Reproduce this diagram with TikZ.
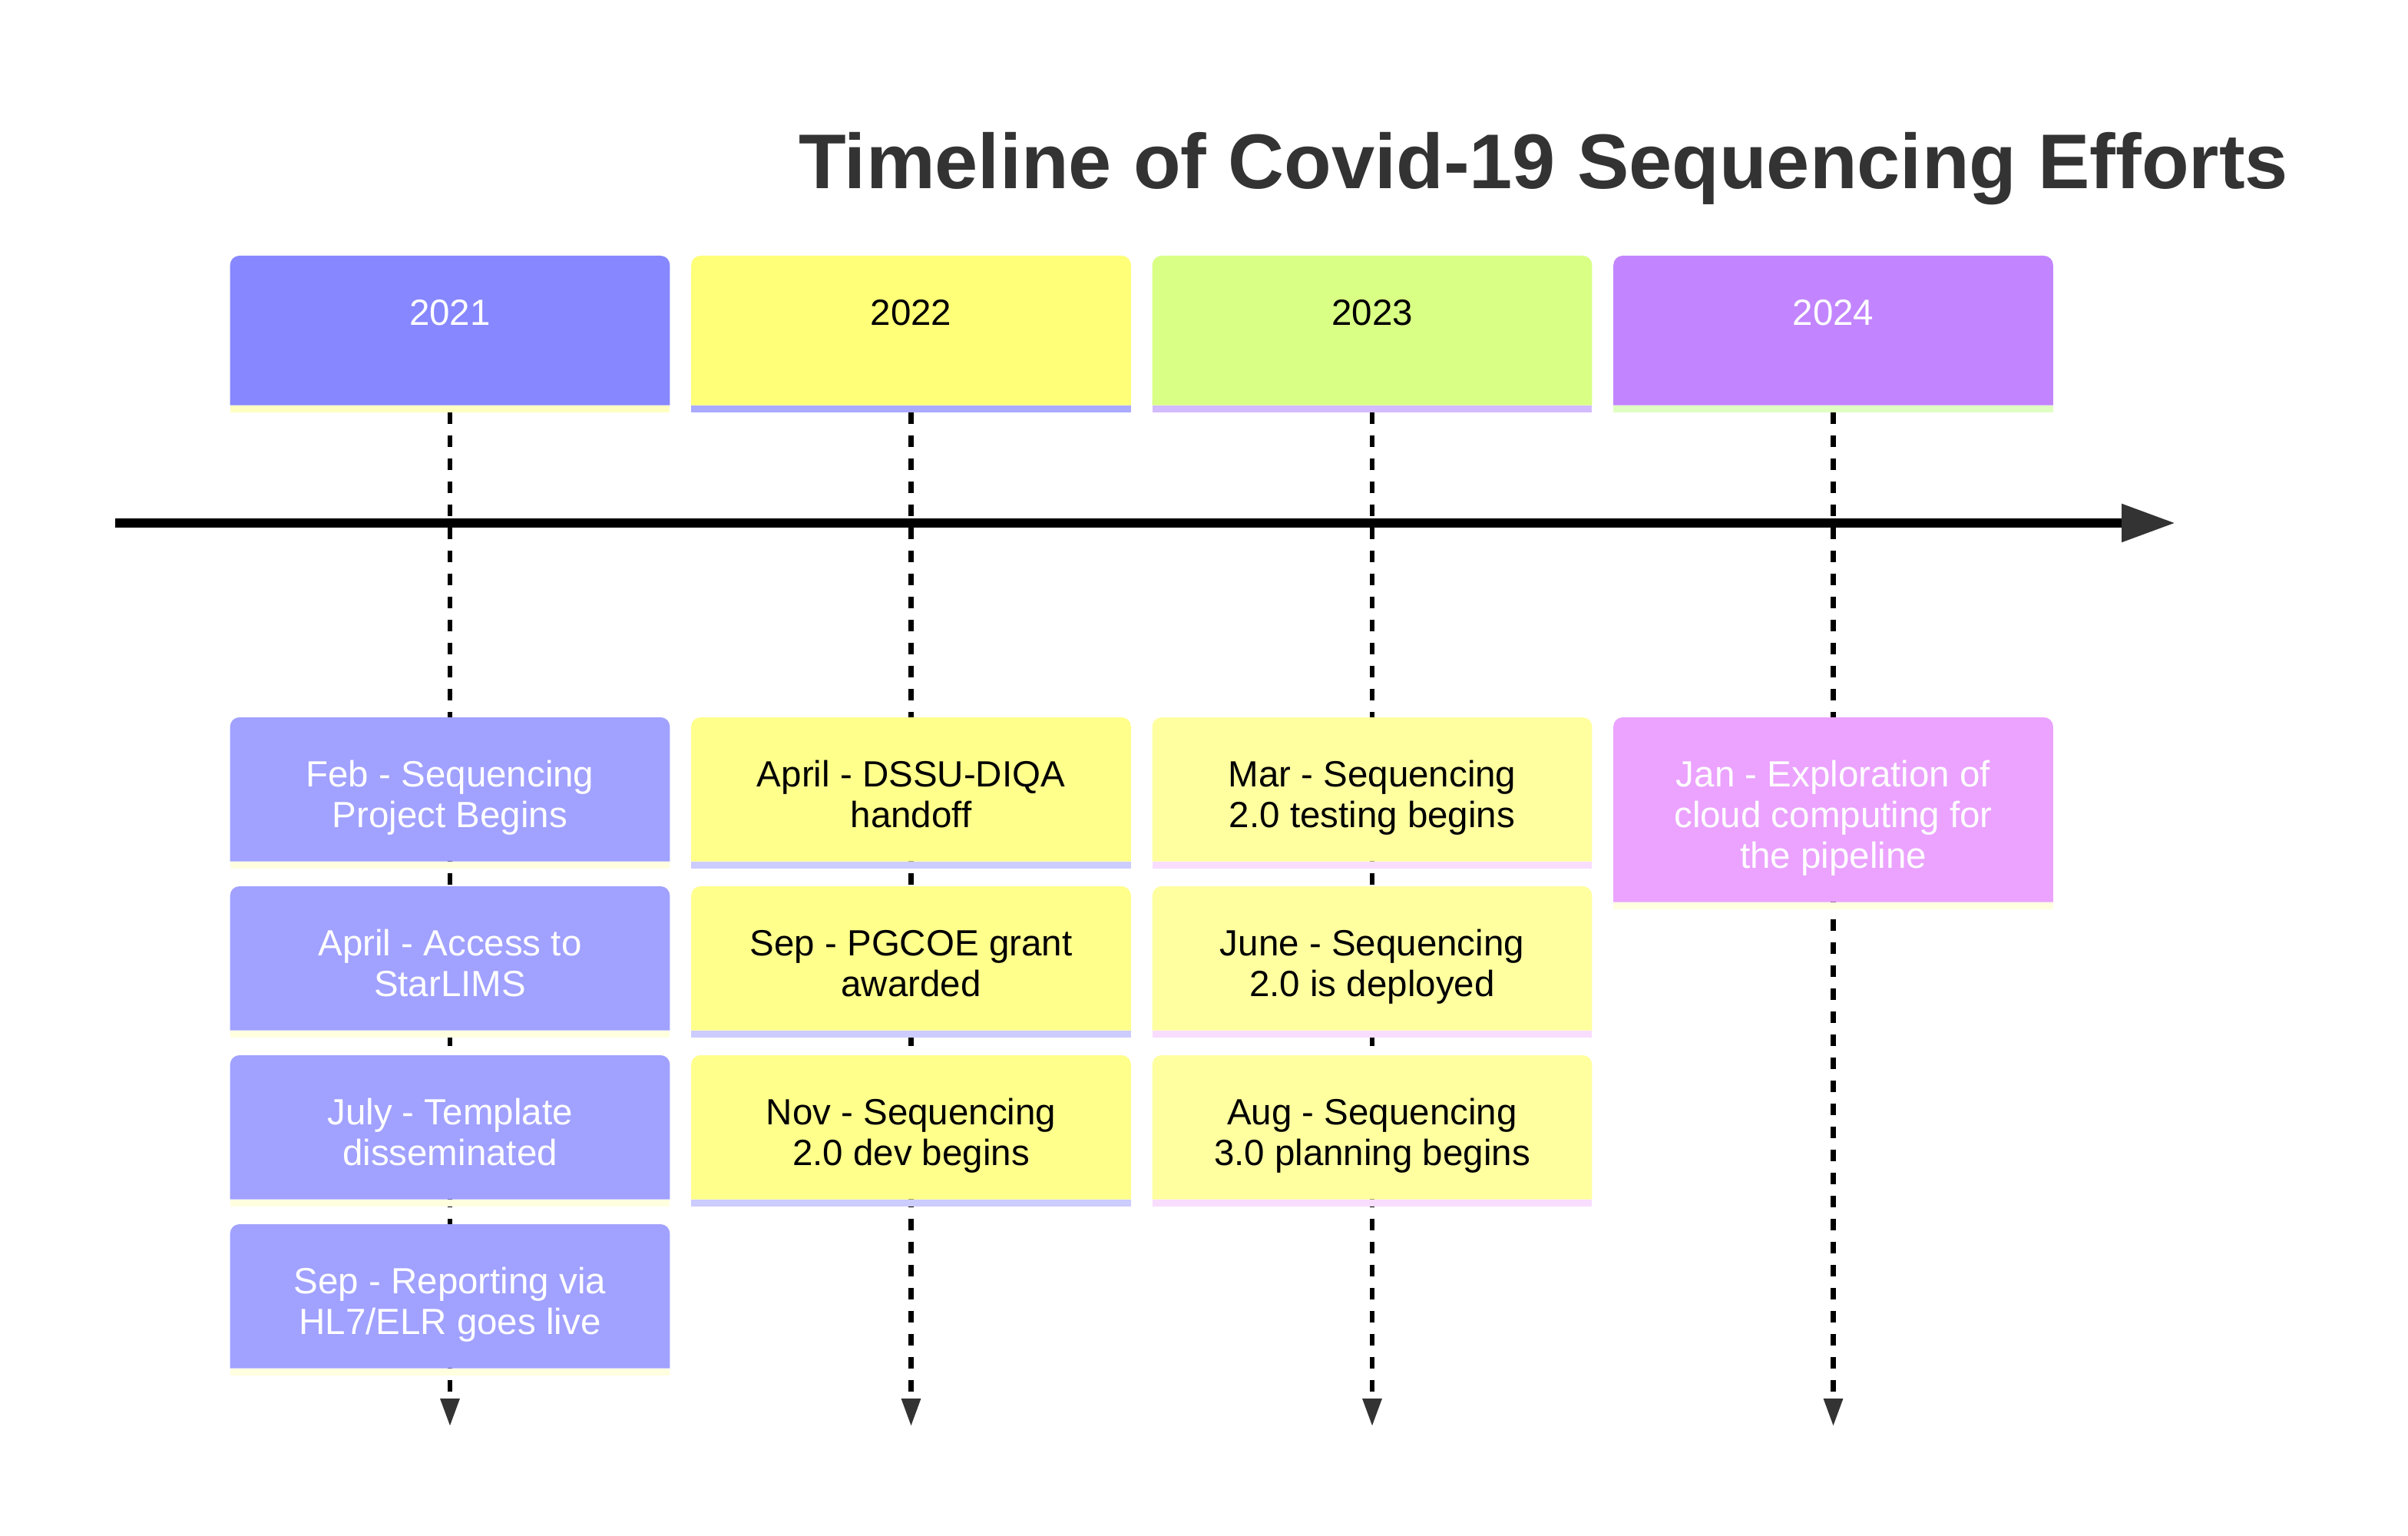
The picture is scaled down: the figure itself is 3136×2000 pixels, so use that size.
\documentclass[tikz,border=0pt]{standalone}
\usepackage{fontspec}
\setmainfont{Liberation Sans}
\usetikzlibrary{arrows.meta,backgrounds}
\definecolor{cTitle}{HTML}{333333}
\definecolor{cTip}{HTML}{333333}
\definecolor{hA}{HTML}{8787FF}\definecolor{hAs}{HTML}{FFFFC2}
\definecolor{hB}{HTML}{FFFF78}\definecolor{hBs}{HTML}{AAAAFF}
\definecolor{hC}{HTML}{D9FF85}\definecolor{hCs}{HTML}{D3BBFF}
\definecolor{hD}{HTML}{C285FF}\definecolor{hDs}{HTML}{E0FFC2}
\definecolor{eA}{HTML}{A1A1FF}\definecolor{eAs}{HTML}{FFFFE0}
\definecolor{eB}{HTML}{FFFF8C}\definecolor{eBs}{HTML}{CCCCFF}
\definecolor{eC}{HTML}{FFFFA0}\definecolor{eCs}{HTML}{F8DDFF}
\definecolor{eD}{HTML}{EBA3FF}\definecolor{eDs}{HTML}{FFFFE0}
\tikzset{
  tlshape/.style={rectangle, minimum width=142.75pt, inner sep=0pt, draw=none},
  tltext/.style={inner sep=0pt, align=center, font=\fontsize{11.875pt}{13.25pt}\selectfont},
  dline/.style={line width=1.55pt, draw=black, dash pattern=on 3.75pt off 3.75pt,
    -{Triangle[length=9pt,width=6pt,color=cTip]}},
  axisline/.style={line width=2.9pt, draw=black, -{Triangle[length=17.5pt,width=11.75pt,color=cTip]}},
}
% #1 name, #2 cx, #3 top, #4 fill height, #5 fill, #6 stripe, #7 text colour, #8 text
\newcommand\tlbox[8]{%
  \node[tlshape, minimum height=#4, anchor=north] (#1) at (#2,#3) {};
  \fill[#5] (#1.south west) -- ([yshift=-3pt]#1.north west)
     arc[start angle=180, end angle=90, radius=3pt]
     -- ([xshift=-3pt]#1.north east)
     arc[start angle=90, end angle=0, radius=3pt]
     -- (#1.south east) -- cycle;
  \fill[#6] (#1.south west) rectangle ([yshift=-2.25pt]#1.south east);
  \node[tltext, text=#7, anchor=north] (#1t) at ([yshift=-12.5pt]#1.north) {\rule{0pt}{10pt}#8};
}
\begin{document}
\begin{tikzpicture}[x=0.25pt,y=-0.25pt]
\node[font=\bfseries\fontsize{25.25pt}{30pt}\selectfont, text=cTitle, anchor=base, inner sep=0pt] (title) at (2010,246) {Timeline of Covid-19 Sequencing Efforts};
% headers
\tlbox{hA}{586}{333}{48.25pt}{hA}{hAs}{white}{2021}
\tlbox{hB}{1186.5}{333}{48.25pt}{hB}{hBs}{black}{2022}
\tlbox{hC}{1787}{333}{48.25pt}{hC}{hCs}{black}{2023}
\tlbox{hD}{2387.5}{333}{48.25pt}{hD}{hDs}{white}{2024}
% 2021 events
\tlbox{eA1}{586}{934}{46.5pt}{eA}{eAs}{white}{Feb - Sequencing\\Project Begins}
\tlbox{eA2}{586}{1154}{46.5pt}{eA}{eAs}{white}{April - Access to\\StarLIMS}
\tlbox{eA3}{586}{1374}{46.5pt}{eA}{eAs}{white}{July - Template\\disseminated}
\tlbox{eA4}{586}{1594}{46.5pt}{eA}{eAs}{white}{Sep - Reporting via\\HL7/ELR goes live}
% 2022 events
\tlbox{eB1}{1186.5}{934}{46.5pt}{eB}{eBs}{black}{April - DSSU-DIQA\\handoff}
\tlbox{eB2}{1186.5}{1154}{46.5pt}{eB}{eBs}{black}{Sep - PGCOE grant\\awarded}
\tlbox{eB3}{1186.5}{1374}{46.5pt}{eB}{eBs}{black}{Nov - Sequencing\\2.0 dev begins}
% 2023 events
\tlbox{eC1}{1787}{934}{46.5pt}{eC}{eCs}{black}{Mar - Sequencing\\2.0 testing begins}
\tlbox{eC2}{1787}{1154}{46.5pt}{eC}{eCs}{black}{June - Sequencing\\2.0 is deployed}
\tlbox{eC3}{1787}{1374}{46.5pt}{eC}{eCs}{black}{Aug - Sequencing\\3.0 planning begins}
% 2024 events
\tlbox{eD1}{2387.5}{934}{59.75pt}{eD}{eDs}{white}{Jan - Exploration of\\cloud computing for\\the pipeline}
% connector ends
\coordinate (endA) at (586,1857);
\coordinate (endB) at (1186.5,1857);
\coordinate (endC) at (1787,1857);
\coordinate (endD) at (2387.5,1857);
\coordinate (axs) at (150,681);
\coordinate (axe) at (2833,681);
\begin{scope}[on background layer]
\fill[white] (0,0) rectangle (3136,2000);
\draw[dline] ([yshift=-2.25pt]hA.south) -- (endA);
\draw[dline] ([yshift=-2.25pt]hB.south) -- (endB);
\draw[dline] ([yshift=-2.25pt]hC.south) -- (endC);
\draw[dline] ([yshift=-2.25pt]hD.south) -- (endD);
\draw[axisline] (axs) -- (axe);
\end{scope}
\useasboundingbox (0,0) rectangle (3136,2000);
\end{tikzpicture}
\end{document}
